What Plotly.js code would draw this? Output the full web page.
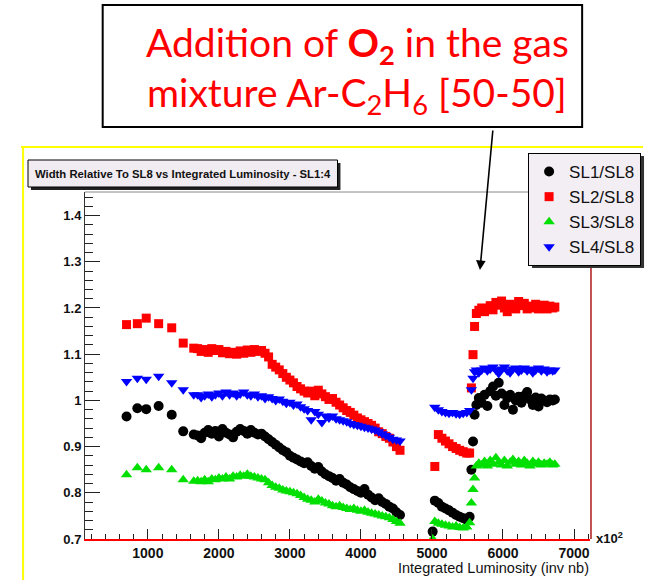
<!DOCTYPE html>
<html>
<head>
<meta charset="utf-8">
<script src="https://cdn.plot.ly/plotly-3.0.1.min.js"></script>
<style>html,body{margin:0;padding:0;background:#fff;}#chart{width:653px;height:580px;}</style>
</head>
<body>
<div id="chart"></div>
<script>
// Integrated luminosity (x10^2 inv nb)
const lumi = [
  700, 852, 977, 1152, 1336, 1498, 1646,
  1700, 1750, 1800, 1850, 1900, 1950, 2000, 2050, 2100, 2150,
  2200, 2250, 2300, 2350, 2400, 2450, 2500, 2550, 2600, 2650,
  2700, 2750, 2800, 2850, 2900, 2950, 3000, 3050, 3100, 3150,
  3200, 3250, 3300, 3350, 3400, 3450, 3500, 3550, 3600, 3650,
  3700, 3750, 3800, 3850, 3900, 3950, 4000, 4050, 4100, 4150,
  4200, 4250, 4300, 4350, 4400, 4450, 4500, 4550,
  5010, 5040, 5090, 5140, 5190, 5240, 5290, 5340, 5390, 5440, 5490, 5530, 5555, 5578, 5600, 5625,
  5660, 5700, 5740, 5780, 5820, 5860, 5900, 5940, 5980, 6020,
  6060, 6100, 6140, 6180, 6220, 6260, 6300, 6340, 6380, 6420,
  6460, 6500, 6540, 6580, 6620, 6660, 6700, 6730
];
const sl1 = [
  0.965, 0.983, 0.981, 0.988, 0.969, 0.933, 0.926,
  0.924, 0.918, 0.930, 0.936, 0.928, 0.934, 0.922, 0.938, 0.930, 0.926,
  0.920, 0.932, 0.938, 0.934, 0.928, 0.936, 0.930, 0.926, 0.928, 0.922,
  0.916, 0.910, 0.904, 0.898, 0.892, 0.888, 0.880, 0.876, 0.872, 0.868,
  0.864, 0.866, 0.858, 0.852, 0.856, 0.846, 0.840, 0.836, 0.832, 0.826,
  0.830, 0.822, 0.818, 0.812, 0.808, 0.804, 0.800, 0.808, 0.796, 0.790,
  0.784, 0.788, 0.780, 0.776, 0.770, 0.766, 0.758, 0.752,
  0.716, 0.783, 0.778, 0.770, 0.766, 0.762, 0.757, 0.752, 0.748, 0.745, 0.742, 0.748, 0.850, 0.911, 0.969, 0.990,
  1.005, 0.995, 1.012, 0.988, 1.020, 1.030, 1.010, 1.038, 1.015, 0.990,
  1.005, 1.012, 0.980, 1.000, 1.008, 0.995, 1.010, 1.018, 1.002, 0.990,
  1.006, 0.987, 1.004, 1.000, 0.996, 1.002, 1.000, 1.002
];
const sl2 = [
  1.164, 1.166, 1.178, 1.166, 1.157, 1.124, 1.113,
  1.112, 1.106, 1.110, 1.104, 1.112, 1.108, 1.110, 1.103, 1.106, 1.101,
  1.104, 1.100, 1.107, 1.102, 1.109, 1.104, 1.110, 1.106, 1.108, 1.102,
  1.094, 1.078, 1.072, 1.066, 1.058, 1.050, 1.044, 1.038, 1.030, 1.025,
  1.020, 1.016, 1.020, 1.010, 1.022, 1.014, 1.008, 1.002, 1.004, 0.996,
  0.990, 0.984, 0.978, 0.974, 0.968, 0.962, 0.958, 0.954, 0.950, 0.946,
  0.940, 0.932, 0.928, 0.922, 0.918, 0.910, 0.900, 0.892,
  null, 0.857, 0.926, 0.918, 0.912, 0.906, 0.900, 0.896, 0.892, 0.889, 0.886, 0.886, 1.027, 1.099, 1.160, 1.188,
  1.195, 1.200, 1.192, 1.198, 1.205, 1.196, 1.212, 1.206, 1.215, 1.200,
  1.192, 1.208, 1.202, 1.198, 1.214, 1.205, 1.210, 1.198, 1.204, 1.200,
  1.208, 1.198, 1.202, 1.206, 1.198, 1.204, 1.200, 1.202
];
const sl3 = [
  0.839, 0.854, 0.850, 0.854, 0.850, 0.828, 0.825,
  0.826, 0.824, 0.828, 0.824, 0.830, 0.828, 0.832, 0.830, 0.834, 0.830,
  0.836, 0.834, 0.838, 0.836, 0.840, 0.836, 0.834, 0.832, 0.830, 0.828,
  0.822, 0.816, 0.812, 0.810, 0.806, 0.804, 0.802, 0.800, 0.798, 0.794,
  0.790, 0.786, 0.784, 0.780, 0.786, 0.782, 0.778, 0.776, 0.772, 0.770,
  0.772, 0.768, 0.766, 0.764, 0.766, 0.762, 0.760, 0.762, 0.758, 0.756,
  0.754, 0.752, 0.750, 0.748, 0.746, 0.742, 0.738, 0.734,
  0.700, 0.738, 0.734, 0.732, 0.730, 0.728, 0.726, 0.728, 0.725, 0.724, 0.726, 0.735, 0.778, 0.807, 0.832, 0.858,
  0.864, 0.860, 0.868, 0.858, 0.870, 0.862, 0.876, 0.866, 0.860, 0.870,
  0.858, 0.866, 0.872, 0.862, 0.868, 0.860, 0.870, 0.864, 0.858, 0.868,
  0.862, 0.866, 0.860, 0.864, 0.862, 0.866, 0.860, 0.862
];
const sl4 = [
  1.041, 1.048, 1.046, 1.052, 1.038, 1.023, 1.012,
  1.012, 1.006, 1.010, 1.014, 1.008, 1.012, 1.016, 1.010, 1.018, 1.012,
  1.016, 1.010, 1.014, 1.018, 1.012, 1.010, 1.014, 1.008, 1.010, 1.004,
  1.008, 1.004, 1.000, 1.003, 0.998, 0.994, 0.996, 0.990, 0.992, 0.986,
  0.982, 0.978, 0.958, 0.976, 0.970, 0.952, 0.966, 0.962, 0.966, 0.960,
  0.958, 0.956, 0.954, 0.950, 0.948, 0.946, 0.944, 0.942, 0.940, 0.938,
  0.936, 0.932, 0.928, 0.924, 0.920, 0.916, 0.914, 0.912,
  null, 0.985, 0.980, 0.976, 0.974, 0.972, 0.974, 0.971, 0.970, 0.972, 0.974, 0.978, 1.023, 1.048, 1.062, 1.066,
  1.060, 1.066, 1.070, 1.064, 1.068, 1.072, 1.066, 1.058, 1.068, 1.072,
  1.064, 1.060, 1.068, 1.070, 1.062, 1.066, 1.070, 1.064, 1.068, 1.060,
  1.066, 1.070, 1.064, 1.068, 1.062, 1.066, 1.064, 1.066
];
const seriesNames = ['SL1/SL8', 'SL2/SL8', 'SL3/SL8', 'SL4/SL8'];
const xTickVals = [1000, 2000, 3000, 4000, 5000, 6000, 7000];

// ---- layout geometry (pixels) ----
const W = 653, H = 580;
const PL = 85, PR = 599, PT = 192, PB = 539;
const px2x = p => (p - PL) / (PR - PL);
const py2y = p => (PB - p) / (PB - PT);

const traces = [
  {x: lumi, y: sl1, name: seriesNames[0], marker: {symbol: 'circle', color: '#000000', size: 10}},
  {x: lumi, y: sl2, name: seriesNames[1], marker: {symbol: 'square', color: '#ff0000', size: 9}},
  {x: lumi, y: sl3, name: seriesNames[2], marker: {symbol: 'triangle-up', color: '#00e000', size: 10}},
  {x: lumi, y: sl4, name: seriesNames[3], marker: {symbol: 'triangle-down', color: '#0000ff', size: 10}}
].map(t => Object.assign({type: 'scatter', mode: 'markers'}, t));

function rect(x0, y0, x1, y1, fill, line, lw) {
  return {type: 'rect', xref: 'paper', yref: 'paper', x0: px2x(x0), x1: px2x(x1), y0: py2y(y0), y1: py2y(y1),
          fillcolor: fill, line: {color: line || fill, width: lw === undefined ? 1 : lw}, layer: 'above'};
}
function seg(x0, y0, x1, y1, color, w) {
  return {type: 'line', xref: 'paper', yref: 'paper', x0: px2x(x0), x1: px2x(x1), y0: py2y(y0), y1: py2y(y1),
          line: {color: color, width: w}, layer: 'above'};
}

const shapes = [
  seg(20, 147, 653, 147, '#ffff00', 2),
  seg(22, 147, 22, 580, '#ffff00', 2),
  seg(PL, PT, PR, PT, '#888888', 1),
  seg(PR + 1, PT, PR + 1, PB, '#b01818', 1.5),
  rect(30, 163, 345, 190, '#222222', '#222222', 0),
  rect(27, 160, 342, 187, '#f1ecf2', '#000000', 1),
  rect(540, 156, 654, 268, '#333333', '#333333', 0),
  rect(103, 5, 591, 127, '#ffffff', '#000000', 2)
];

const annotations = [
  {xref: 'paper', yref: 'paper', x: px2x(184.5), y: py2y(173.5), xanchor: 'center', yanchor: 'middle', showarrow: false,
   text: 'Width Relative To SL8 vs Integrated Luminosity - SL1:4',
   font: {family: 'Liberation Sans, Arial, sans-serif', size: 11.3, weight: 700, color: '#111'}},
  {xref: 'paper', yref: 'paper', x: px2x(362), y: py2y(45), xanchor: 'center', yanchor: 'middle', showarrow: false,
   text: 'Addition of <b>O<sub>2</sub></b> in the gas',
   font: {family: 'Lato, Open Sans, sans-serif', size: 39, color: '#ff0000'}},
  {xref: 'paper', yref: 'paper', x: px2x(362), y: py2y(95), xanchor: 'center', yanchor: 'middle', showarrow: false,
   text: 'mixture Ar-C<sub>2</sub>H<sub>6</sub> [50-50]',
   font: {family: 'Lato, Open Sans, sans-serif', size: 39, color: '#ff0000'}},
  {xref: 'paper', yref: 'paper', x: px2x(487), y: py2y(270), text: '', showarrow: true,
   ax: 13, ay: -141, arrowhead: 2, arrowsize: 1.2, arrowwidth: 1.6, arrowcolor: '#000'},
  {xref: 'paper', yref: 'paper', x: px2x(603), y: py2y(538), xanchor: 'left', yanchor: 'middle', showarrow: false,
   text: 'x10<sup>2</sup>', font: {family: 'Liberation Sans, Arial, sans-serif', size: 13, weight: 700, color: '#111'}},
  {xref: 'paper', yref: 'paper', x: px2x(600), y: py2y(568), xanchor: 'right', yanchor: 'middle', showarrow: false,
   text: 'Integrated Luminosity (inv nb)', font: {family: 'Liberation Sans, Arial, sans-serif', size: 14.5, color: '#111'}}
];

const layout = {
  width: W, height: H,
  margin: {l: PL, r: W - PR, t: PT, b: H - PB, pad: 0},
  paper_bgcolor: '#ffffff', plot_bgcolor: '#ffffff',
  showlegend: true,
  legend: {x: px2x(651), y: py2y(153), xanchor: 'right', yanchor: 'top',
           bgcolor: '#f3eef4', bordercolor: '#000', borderwidth: 1,
           font: {family: 'Liberation Sans, Arial, sans-serif', size: 17, color: '#111'}},
  xaxis: {range: [115, 7225], tickvals: xTickVals, ticks: 'inside', ticklen: 10, tickcolor: '#222',
          showgrid: false, zeroline: false, showline: true, linecolor: '#ff0000', linewidth: 2,
          minor: {dtick: 200, tick0: 0, ticks: 'inside', ticklen: 5, tickcolor: '#222', showgrid: false},
          tickfont: {family: 'Liberation Sans, Arial, sans-serif', size: 14, weight: 700, color: '#111'}},
  yaxis: {range: [0.7, 1.451], dtick: 0.1, tick0: 0.7, ticks: 'inside', ticklen: 15, tickcolor: '#222',
          showgrid: false, zeroline: false, showline: true, linecolor: '#333', linewidth: 1,
          minor: {dtick: 0.02, tick0: 0.7, ticks: 'inside', ticklen: 8, tickcolor: '#222', showgrid: false},
          tickfont: {family: 'Liberation Sans, Arial, sans-serif', size: 13, weight: 700, color: '#111'}},
  shapes: shapes,
  annotations: annotations
};

Plotly.newPlot('chart', traces, layout, {displayModeBar: false, staticPlot: true});
</script>
</body>
</html>
